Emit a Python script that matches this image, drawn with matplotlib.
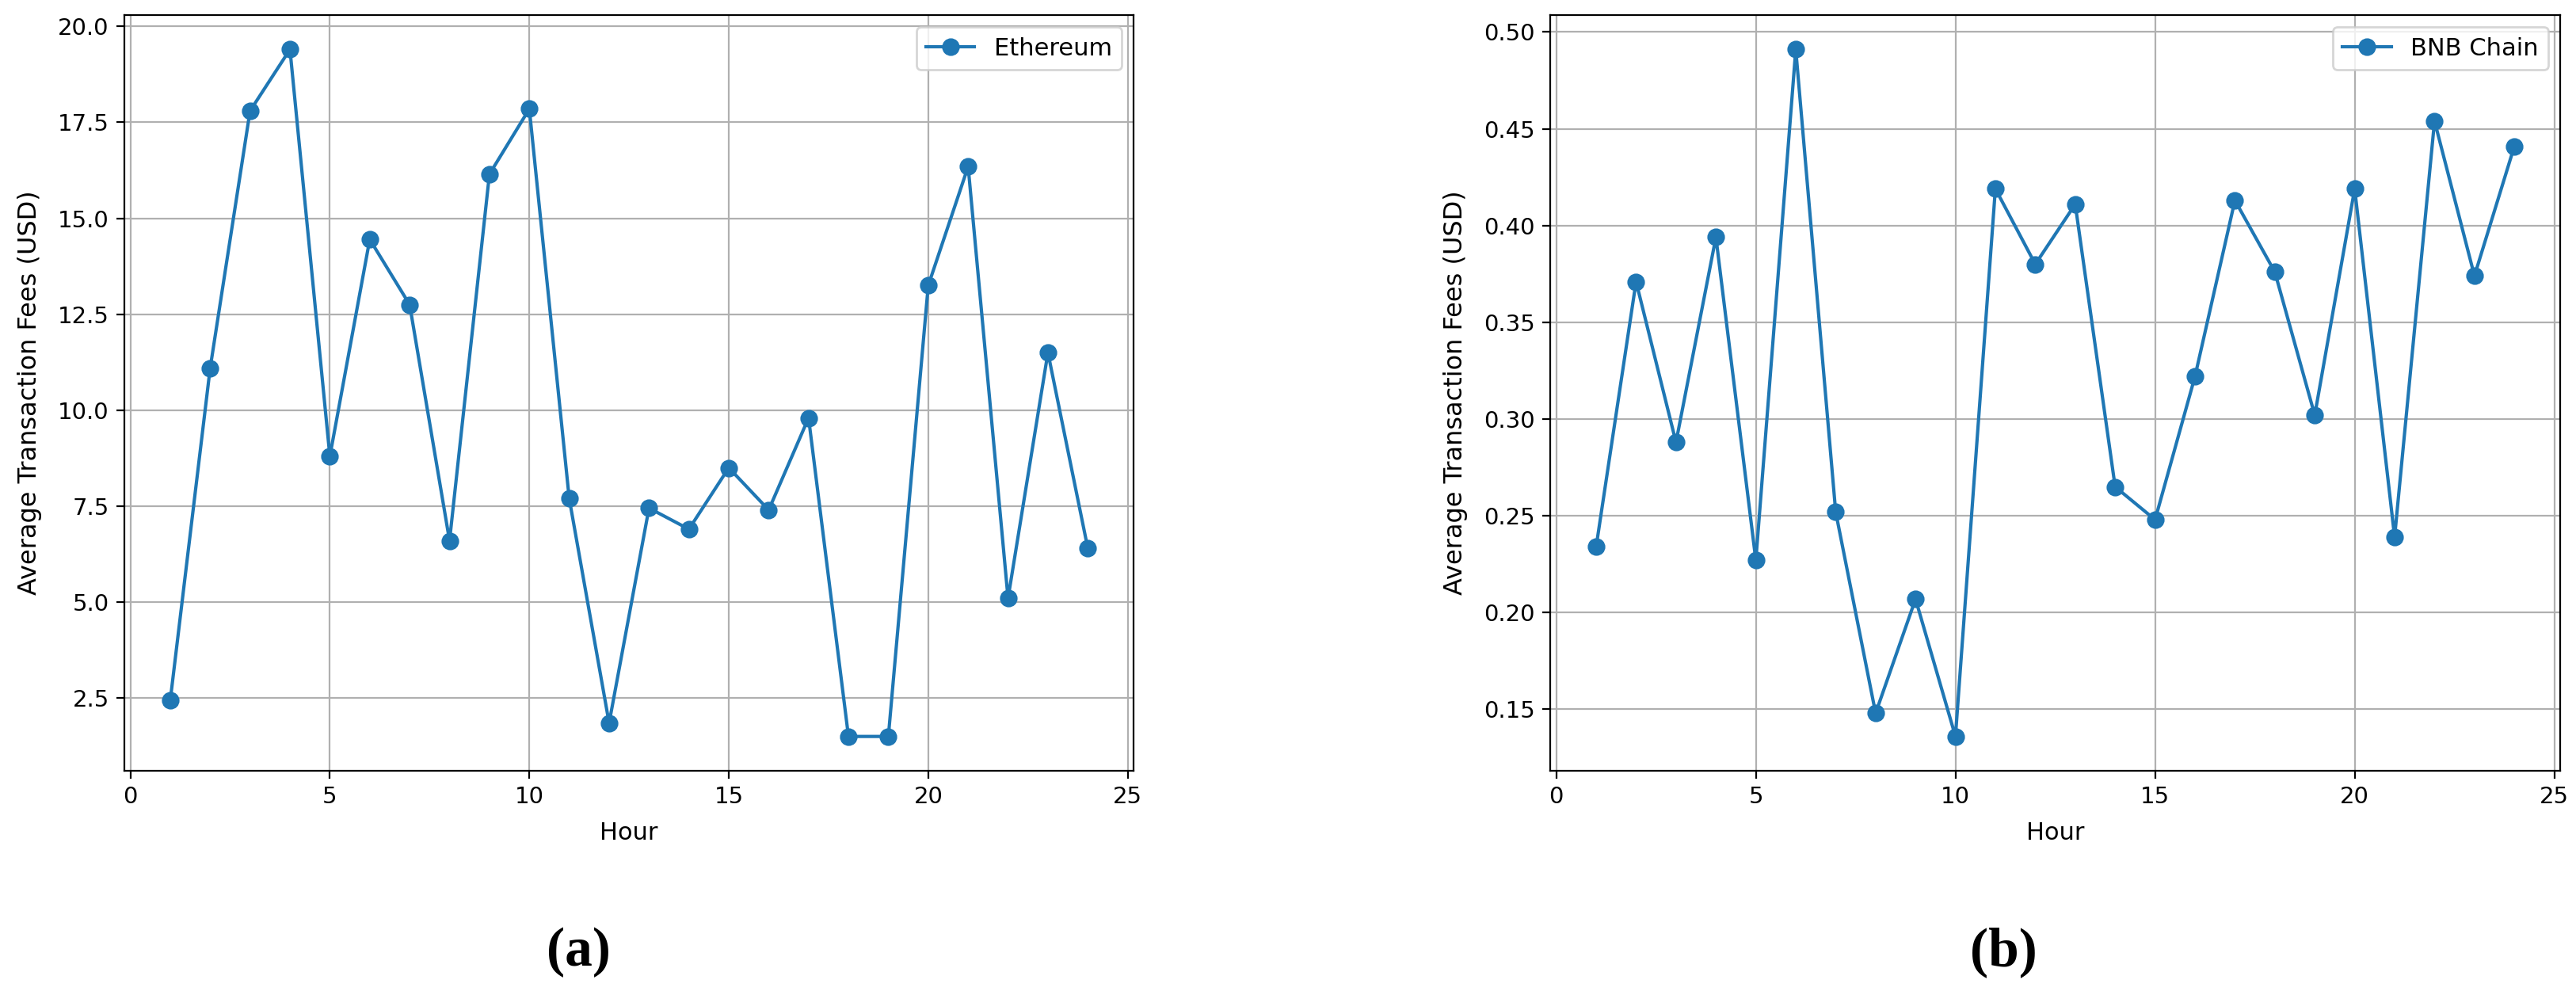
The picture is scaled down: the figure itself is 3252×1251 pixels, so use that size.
import matplotlib
matplotlib.use("Agg")
import matplotlib.pyplot as plt

hours = list(range(1, 25))

eth_fees = [2.45, 11.1, 17.8, 19.4, 8.8, 14.45, 12.75, 6.6, 16.15, 17.85,
            7.7, 1.85, 7.45, 6.9, 8.5, 7.4, 9.8, 1.5, 1.5, 13.25,
            16.35, 5.1, 11.5, 6.4]

bnb_fees = [0.234, 0.371, 0.288, 0.394, 0.227, 0.491, 0.252, 0.148, 0.207, 0.136,
            0.419, 0.380, 0.411, 0.265, 0.248, 0.322, 0.413, 0.376, 0.302, 0.419,
            0.239, 0.454, 0.374, 0.441]

series = [("Ethereum", eth_fees, "(a)"), ("BNB Chain", bnb_fees, "(b)")]


def main():
    fig = plt.figure(figsize=(16.26, 6.255), dpi=200)
    positions = [[0.0483, 0.2222, 0.3918, 0.7626],
                 [0.6018, 0.2222, 0.3921, 0.7626]]
    caption_x = [0.2245, 0.7777]

    for (name, values, caption), pos, cx in zip(series, positions, caption_x):
        ax = fig.add_axes(pos)
        ax.plot(hours, values, marker="o", markersize=7, color="#1f77b4", label=name)
        ax.set_xlabel("Hour", fontsize=11, labelpad=6)
        ax.set_ylabel("Average Transaction Fees (USD)", fontsize=11.5, labelpad=7)
        ax.tick_params(labelsize=10.5)
        ax.grid(True)
        ax.legend(loc="upper right", fontsize=11)
        fig.text(cx, 0.039, caption, ha="center", va="center",
                 family="Liberation Serif", fontweight="bold", fontsize=25)

    fig.savefig("out.png", dpi=200)


if __name__ == "__main__":
    main()
